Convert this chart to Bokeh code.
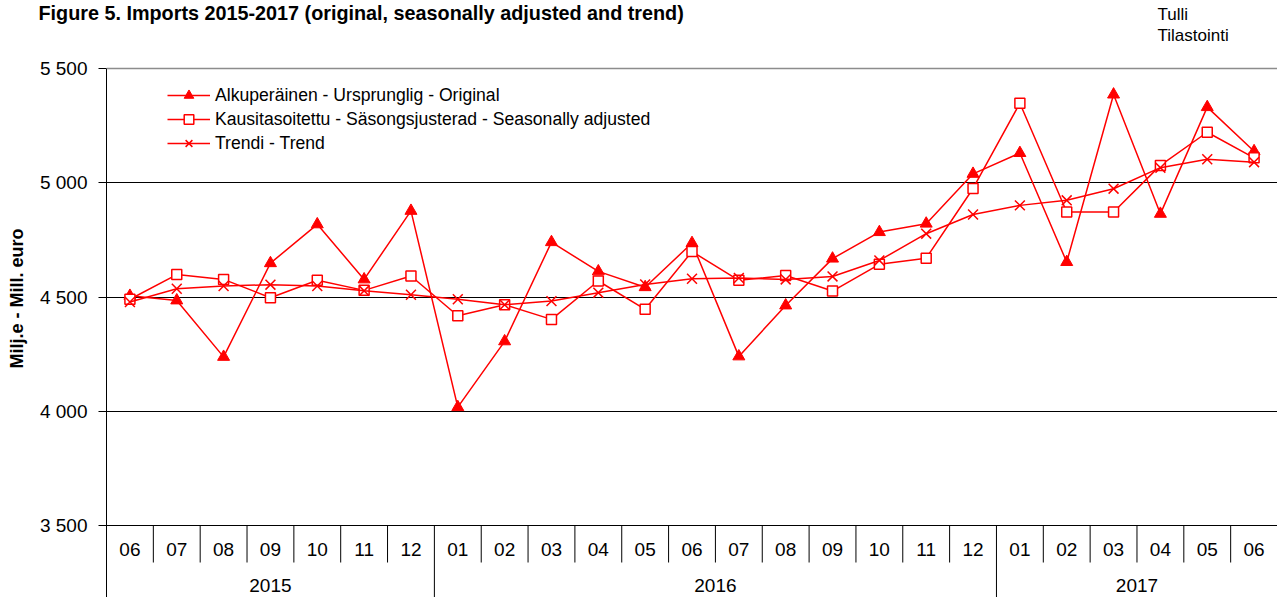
import math
from bokeh.plotting import figure
from bokeh.layouts import column, row
from bokeh.models import (Range1d, FixedTicker, Span, Legend, LegendItem,
                          ColumnDataSource)
from bokeh.core.properties import value
from bokeh.embed import file_html
from bokeh.resources import INLINE

# ---------------- data ----------------
months = ["06", "07", "08", "09", "10", "11", "12",
          "01", "02", "03", "04", "05", "06", "07", "08", "09", "10", "11", "12",
          "01", "02", "03", "04", "05", "06"]
years = ["2015"] * 7 + ["2016"] * 12 + ["2017"] * 6

original = [4505, 4485, 4238, 4648, 4818, 4577, 4877,
            4018, 4306, 4740, 4612, 4543, 4736, 4240, 4463, 4668, 4784, 4821, 5039,
            5130, 4653, 5386, 4864, 5331, 5138]
seasonal = [4490, 4598, 4577, 4497, 4573, 4529, 4592,
            4418, 4466, 4402, 4570, 4446, 4699, 4573, 4594, 4526, 4643, 4670, 4975,
            5348, 4872, 4872, 5076, 5221, 5109]
trend = [4478, 4536, 4548, 4554, 4548, 4527, 4510,
         4490, 4466, 4482, 4519, 4555, 4580, 4583, 4577, 4590, 4660, 4777, 4861,
         4901, 4923, 4974, 5066, 5103, 5090]

y_ticks = [3500, 4000, 4500, 5000, 5500]
y_tick_labels = ["3 500", "4 000", "4 500", "5 000", "5 500"]

series_labels = ["Alkuperäinen - Ursprunglig - Original",
                 "Kausitasoitettu - Säsongsjusterad - Seasonally adjusted",
                 "Trendi - Trend"]

title_text = "Figure  5. Imports 2015-2017 (original, seasonally adjusted and trend)"
source_lines = ["Tulli", "Tilastointi"]
y_label_text = "Milj.e - Mill. euro"

# ---------------- layout (page pixels) ----------------
PAGE_W, PAGE_H = 1277, 597
TOP_H = 48            # header strip height
LAB_W = 30            # strip holding the rotated y label
FRAME_LEFT = 106
FRAME_TOP = 50
Y_TOP_PX, Y_BOT_PX = 68, 525          # pixel rows of first/last y tick
PPU_Y = (Y_BOT_PX - Y_TOP_PX) / (y_ticks[-1] - y_ticks[0])
CAT_W = 46.84
n = len(months)
RED = "#FF0000"
FONT = "Liberation Sans"


def ydata(py):
    return y_ticks[-1] - (py - Y_TOP_PX) / PPU_Y


def xdata(px):
    return (px - FRAME_LEFT) / CAT_W


def bare(fig):
    fig.xaxis.visible = False
    fig.yaxis.visible = False
    fig.grid.visible = False
    return fig


# ---------------- header strip ----------------
top = bare(figure(width=PAGE_W, height=TOP_H, x_range=Range1d(0, PAGE_W),
                  y_range=Range1d(TOP_H, 0), toolbar_location=None,
                  output_backend="svg", min_border=0, outline_line_color=None,
                  x_axis_location=None, y_axis_location=None))
top.text(x=[38], y=[12], text=[title_text], text_font=value(FONT),
         text_font_style="bold", text_font_size="19.8px", text_align="left",
         text_baseline="middle", text_color="#000000")
top.text(x=[1157, 1157], y=[14, 35], text=source_lines, text_font=value(FONT),
         text_font_size="17px", text_align="left", text_baseline="middle",
         text_color="#000000")

# ---------------- y label strip ----------------
MAIN_H = PAGE_H - TOP_H
lab = bare(figure(width=LAB_W, height=MAIN_H, x_range=Range1d(0, LAB_W),
                  y_range=Range1d(0, MAIN_H), toolbar_location=None,
                  output_backend="svg", min_border=0, outline_line_color=None,
                  x_axis_location=None, y_axis_location=None))
lab.text(x=[16], y=[PAGE_H - 297], text=[y_label_text], angle=math.pi / 2,
         text_font=value(FONT), text_font_style="bold", text_font_size="18px",
         text_align="center", text_baseline="middle", text_color="#000000")

# ---------------- main chart ----------------
p = figure(width=PAGE_W - LAB_W, height=MAIN_H,
           x_range=Range1d(0, xdata(PAGE_W)),
           y_range=Range1d(ydata(PAGE_H), ydata(FRAME_TOP)),
           x_axis_location=None, y_axis_location="left",
           toolbar_location=None, output_backend="svg",
           min_border_left=FRAME_LEFT - LAB_W, min_border_right=0,
           min_border_top=FRAME_TOP - TOP_H, min_border_bottom=0,
           outline_line_color=None, background_fill_color="white",
           border_fill_color="white")

ax = p.yaxis[0]
ax.ticker = FixedTicker(ticks=y_ticks)
ax.major_label_overrides = {t: l for t, l in zip(y_ticks, y_tick_labels)}
ax.major_tick_out = 8
ax.major_tick_in = 0
ax.minor_tick_out = 0
ax.minor_tick_in = 0
ax.major_label_standoff = 11
ax.major_label_text_font = FONT
ax.major_label_text_font_size = "19px"
ax.major_label_text_color = "#000000"
ax.axis_line_color = "#000000"
ax.major_tick_line_color = "#000000"
ax.bounds = (ydata(PAGE_H), y_ticks[-1])

p.xgrid.visible = False
p.ygrid.ticker = FixedTicker(ticks=y_ticks[:-1])
p.ygrid.grid_line_color = "#000000"
p.ygrid.grid_line_width = 1
p.add_layout(Span(location=y_ticks[-1], dimension="width",
                  line_color="#8c8c8c", line_width=1.5))

# category axis drawn below 3 500
xs = [i + 0.5 for i in range(n)]
month_sep = [i for i in range(1, n) if years[i] == years[i - 1]]
year_sep = [i for i in range(1, n) if years[i] != years[i - 1]]
p.segment(x0=month_sep, y0=[y_ticks[0]] * len(month_sep), x1=month_sep,
          y1=[ydata(562)] * len(month_sep), line_color="#000000", line_width=1)
p.segment(x0=year_sep, y0=[y_ticks[0]] * len(year_sep), x1=year_sep,
          y1=[ydata(PAGE_H)] * len(year_sep), line_color="#000000", line_width=1)
p.text(x=xs, y=[ydata(549)] * n, text=months, text_align="center",
       text_baseline="middle", text_font=value(FONT), text_font_size="19px",
       text_color="#000000")

uniq_years = []
for yv in years:
    if yv not in uniq_years:
        uniq_years.append(yv)
year_centers = []
for yv in uniq_years:
    idx = [i for i, v in enumerate(years) if v == yv]
    year_centers.append((idx[0] + idx[-1] + 1) / 2)
p.text(x=year_centers, y=[ydata(585)] * len(uniq_years), text=uniq_years,
       text_align="center", text_baseline="middle", text_font=value(FONT),
       text_font_size="19px", text_color="#000000")

# series
src = ColumnDataSource(dict(x=xs, o=original, s=seasonal, t=trend))
l1 = p.line("x", "o", source=src, line_color=RED, line_width=1.5)
m1 = p.scatter("x", "o", source=src, marker="triangle", size=12,
               fill_color=RED, line_color=RED, line_width=1)
l2 = p.line("x", "s", source=src, line_color=RED, line_width=1.5)
m2 = p.scatter("x", "s", source=src, marker="square", size=10,
               fill_color="white", line_color=RED, line_width=1.5)
l3 = p.line("x", "t", source=src, line_color=RED, line_width=1.5)
m3 = p.scatter("x", "t", source=src, marker="x", size=14,
               line_color=RED, line_width=1.5)

legend = Legend(items=[LegendItem(label=series_labels[0], renderers=[l1, m1]),
                       LegendItem(label=series_labels[1], renderers=[l2, m2]),
                       LegendItem(label=series_labels[2], renderers=[l3, m3])],
                location=(61, PAGE_H - 155), orientation="vertical",
                padding=0, margin=0, spacing=0, glyph_width=43, glyph_height=24,
                label_height=24, label_standoff=5, label_text_font=FONT,
                label_text_font_size="17.6px", label_text_color="#000000",
                label_text_baseline="middle",
                border_line_color=None, background_fill_alpha=0)
p.add_layout(legend)

layout = column(top, row(lab, p, spacing=0), spacing=0)
open("out.html", "w").write(file_html(layout, INLINE))
